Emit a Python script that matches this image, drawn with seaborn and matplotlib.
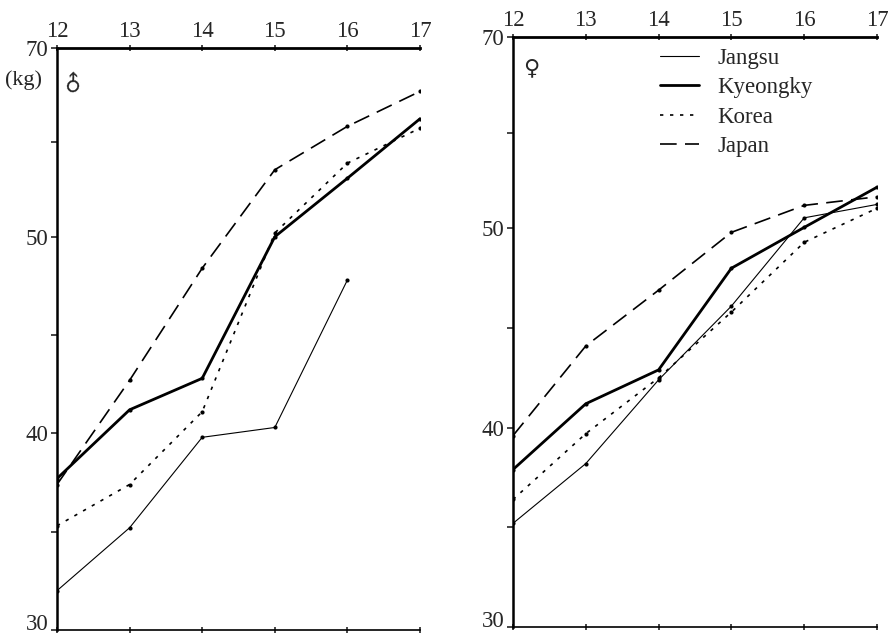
import numpy as np
import pandas as pd
import seaborn as sns
import matplotlib
matplotlib.use("Agg")
import matplotlib.pyplot as plt
import matplotlib.transforms as mtransforms
from matplotlib.lines import Line2D

ages = [12, 13, 14, 15, 16, 17]
regions = ["Jangsu", "Kyeongky", "Korea", "Japan"]

# male weights (kg)
male_jangsu = [32.0, 35.2, 39.8, 40.3, 47.8, None]
male_kyeongky = [37.7, 41.2, 42.8, 50.0, 56.2, 62.5]
male_korea = [35.3, 37.4, 41.1, 50.4, 57.8, 61.5]
male_japan = [37.4, 42.7, 48.4, 57.1, 61.7, 65.4]

# female weights (kg)
female_jangsu = [35.2, 38.2, 42.4, 46.1, 51.1, 52.5]
female_kyeongky = [37.9, 41.2, 42.9, 48.0, 50.1, 54.3]
female_korea = [36.4, 39.7, 42.5, 45.8, 49.3, 52.1]
female_japan = [39.6, 44.1, 46.9, 49.8, 52.4, 53.3]

y_major = [30, 40, 50, 70]
y_minor = [35, 45, 60]

rows = []
for sex, series in [("male", [male_jangsu, male_kyeongky, male_korea, male_japan]),
                    ("female", [female_jangsu, female_kyeongky, female_korea, female_japan])]:
    for region, vals in zip(regions, series):
        for a, v in zip(ages, vals):
            rows.append({"sex": sex, "region": region, "age": a, "weight": v})
df = pd.DataFrame(rows).dropna()

styles = {
    "Jangsu": dict(lw=0.8, ls="-"),
    "Kyeongky": dict(lw=2.0, ls="-"),
    "Korea": dict(lw=1.2, ls=(0, (2, 4))),
    "Japan": dict(lw=1.2, ls=(0, (10, 5))),
}

sns.set_style("white")
plt.rcParams["font.family"] = ["Liberation Serif", "DejaVu Sans"]

# upper part of the axis (above 50 kg) is compressed
K = 0.48
def fwd(y):
    y = np.asarray(y, dtype=float)
    return np.where(y <= 50, y, 50 + (y - 50) * K)
def inv(u):
    u = np.asarray(u, dtype=float)
    return np.where(u <= 50, u, 50 + (u - 50) / K)

fig = plt.figure(figsize=(8.89, 6.38), dpi=100)
W, H = 889, 638
ax_m = fig.add_axes([57 / W, 1 - 630 / H, (420 - 57) / W, (630 - 48) / H])
ax_f = fig.add_axes([513 / W, 1 - 627 / H, (877 - 513) / W, (627 - 37) / H])

for ax, sex in [(ax_m, "male"), (ax_f, "female")]:
    sub = df[df["sex"] == sex]
    for region in regions:
        d = sub[sub["region"] == region]
        st = styles[region]
        sns.lineplot(data=d, x="age", y="weight", ax=ax, color="black",
                     linewidth=st["lw"], linestyle=st["ls"], marker="o",
                     markersize=3, markeredgewidth=0, legend=False)
    ax.set_yscale("function", functions=(fwd, inv))
    ax.set_xlim(12, 17)
    ax.set_ylim(30, 70)
    ax.set_yticks(y_major)
    ax.set_yticks(y_minor, minor=True)
    ax.set_yticklabels([str(v) for v in y_major], fontsize=16.5)
    ax.set_xticks(ages)
    ax.set_xticklabels([str(a) for a in ages], fontsize=16.5)
    ax.tick_params(axis="x", top=True, labeltop=True, bottom=True, labelbottom=False,
                   direction="inout", length=5, width=1.2, pad=2)
    ax.tick_params(axis="y", which="both", left=True, direction="out", length=4,
                   width=1.2, pad=2)
    # lift the bottom "30" label a little so it stays inside the picture
    lab30 = ax.get_yticklabels()[0]
    lab30.set_transform(lab30.get_transform() +
                        mtransforms.ScaledTranslation(0, 6 / 72, fig.dpi_scale_trans))
    ax.set_xlabel("")
    ax.set_ylabel("")
    for side in ["left", "top", "bottom"]:
        ax.spines[side].set_visible(True)
        ax.spines[side].set_color("black")
    ax.spines["left"].set_linewidth(1.8)
    ax.spines["top"].set_linewidth(2.0)
    ax.spines["bottom"].set_linewidth(1.2)
    ax.spines["right"].set_visible(False)

fig.text(5 / W, 1 - 80 / H, "(kg)", fontsize=16, va="center", ha="left")
fig.text(74 / W, 1 - 84 / H, "\u2642", fontsize=16, va="center", ha="center",
         rotation=45, family="DejaVu Sans")
fig.text(531 / W, 1 - 68 / H, "\u2640", fontsize=16, va="center", ha="center",
         family="DejaVu Sans")

handles = [Line2D([], [], color="black", linewidth=styles[r]["lw"],
                  linestyle=styles[r]["ls"]) for r in regions]
ax_f.legend(handles, regions, loc="upper left", bbox_to_anchor=(660 / W, 1 - 48 / H),
            bbox_transform=fig.transFigure, frameon=False, fontsize=16.5,
            handlelength=1.7, handletextpad=0.8, labelspacing=0.36,
            borderpad=0, borderaxespad=0)

fig.savefig("out.png", dpi=100)
